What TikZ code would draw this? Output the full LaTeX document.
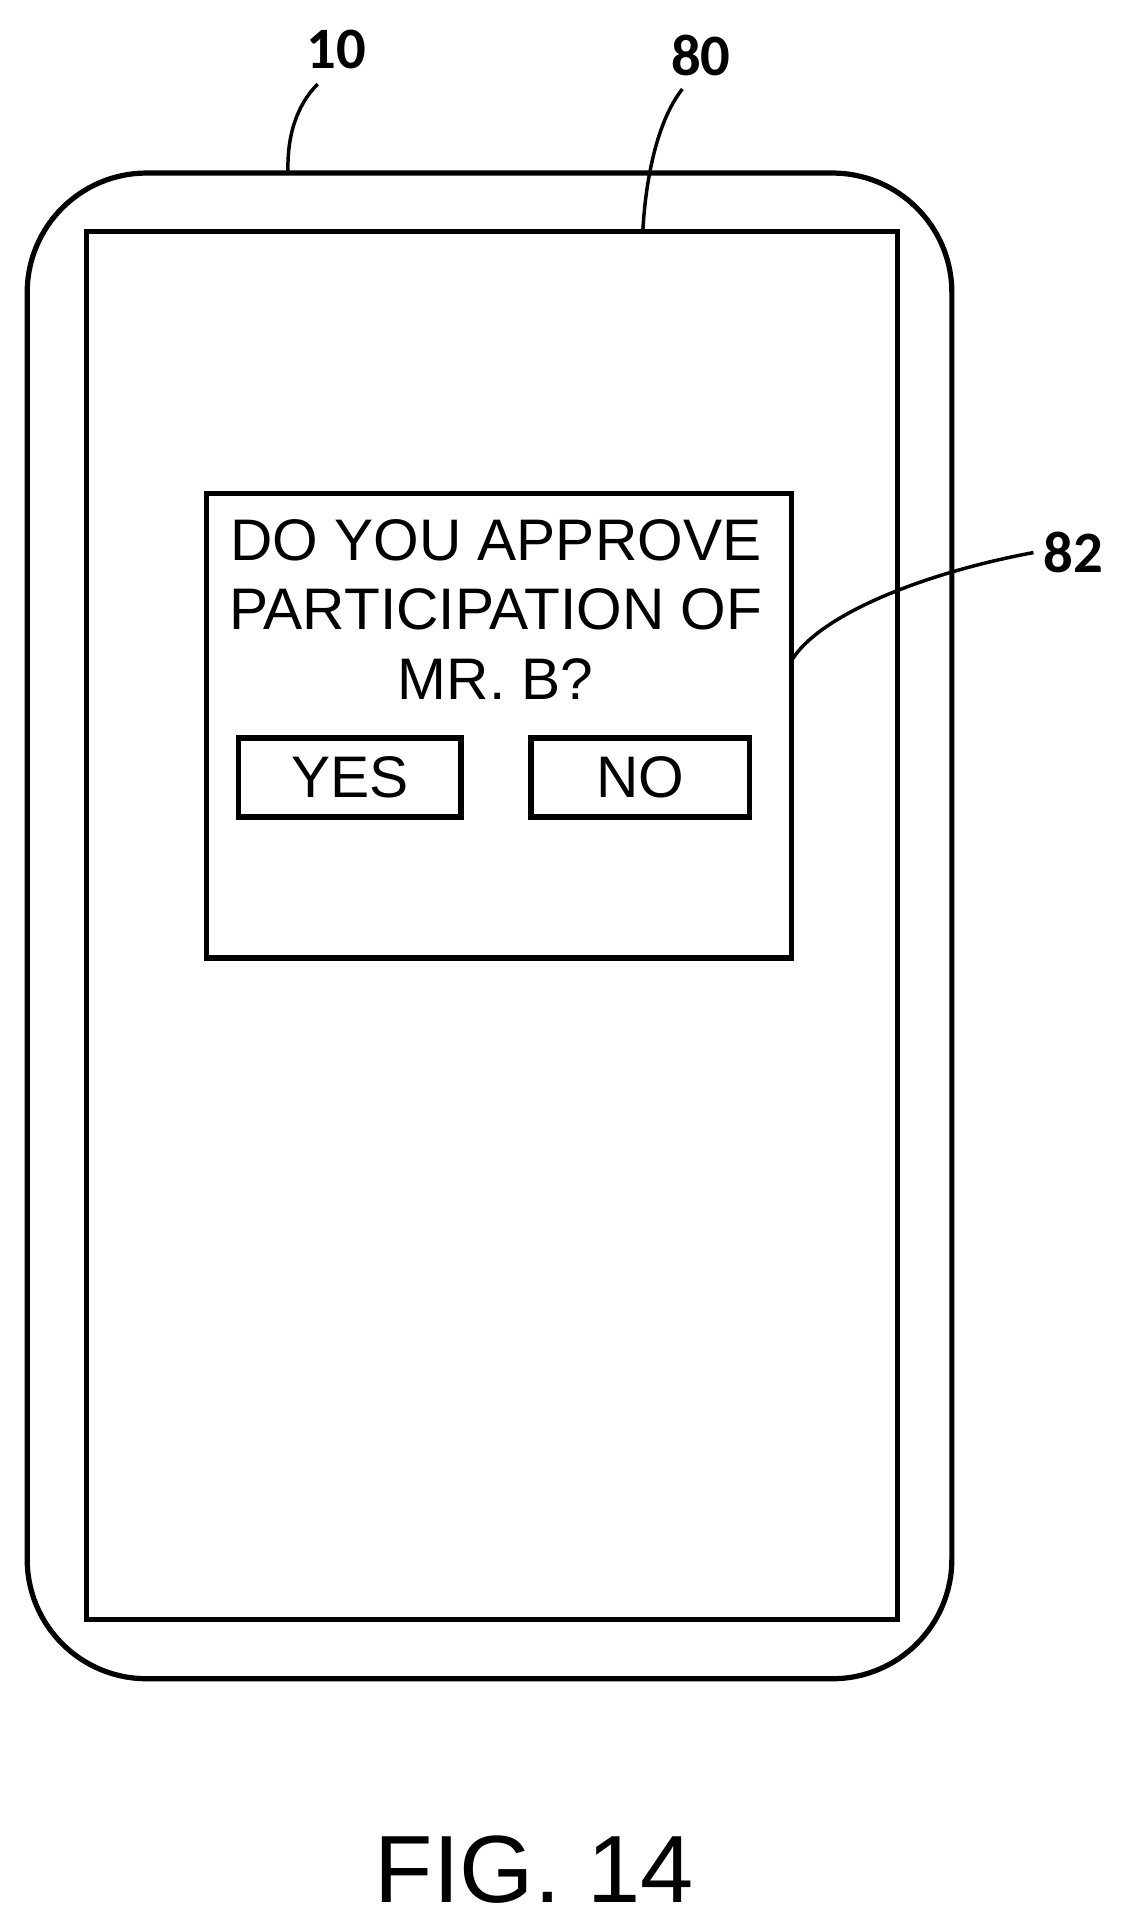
\documentclass[tikz,border=0pt]{standalone}
\usepackage{fontspec}
\setmainfont{Liberation Sans}
\newfontfamily\labelfont{Carlito}
\usetikzlibrary{positioning}
\tikzset{every picture/.style={line width=2.4pt}}
\begin{document}
\begin{tikzpicture}[x=0.02cm, y=-0.02cm]
\useasboundingbox (0,0) rectangle (910,1554);
    % device and screen
\draw[rounded corners=55] (22,140) rectangle (770,1358);
\draw (70,187) rectangle (726,1310);
    % dialog
\node[draw, minimum width=9.46cm, minimum height=7.52cm, anchor=north west] (dlg) at (165,397) {};
\node[font=\fontsize{27}{32}\selectfont, align=center, anchor=north, inner sep=0pt] (msg) at (401,418) {DO YOU APPROVE\\PARTICIPATION OF\\MR. B?};
\node[draw, minimum width=3.6cm, minimum height=1.28cm, font=\fontsize{27}{32}\selectfont] (yes) at (283,629) {YES};
\node[draw, minimum width=3.54cm, minimum height=1.28cm, font=\fontsize{27}{32}\selectfont] (no) at (518,629) {NO};
    % reference labels
\node[font=\labelfont\bfseries\fontsize{27}{32}\selectfont] (l10) at (272,40) {10};
\node[font=\labelfont\bfseries\fontsize{27}{32}\selectfont] (l80) at (567,45) {80};
\node[font=\labelfont\bfseries\fontsize{27}{32}\selectfont] (l82) at (868,447) {82};
\coordinate (c10) at (233,140);
\coordinate (c80) at (520,187);
\coordinate (c82) at (640,535);
\draw[line width=1.6pt] (257,68) .. controls (240,85) and (232,110) .. (c10);
\draw[line width=1.6pt] (552,72) .. controls (530,100) and (522,150) .. (c80);
\draw[line width=1.6pt] (l82.west) .. controls (740,465) and (660,500) .. (c82);
    % caption
\node[font=\fontsize{44}{52}\selectfont] (fig) at (432,1512) {FIG. 14};
\end{tikzpicture}
\end{document}
